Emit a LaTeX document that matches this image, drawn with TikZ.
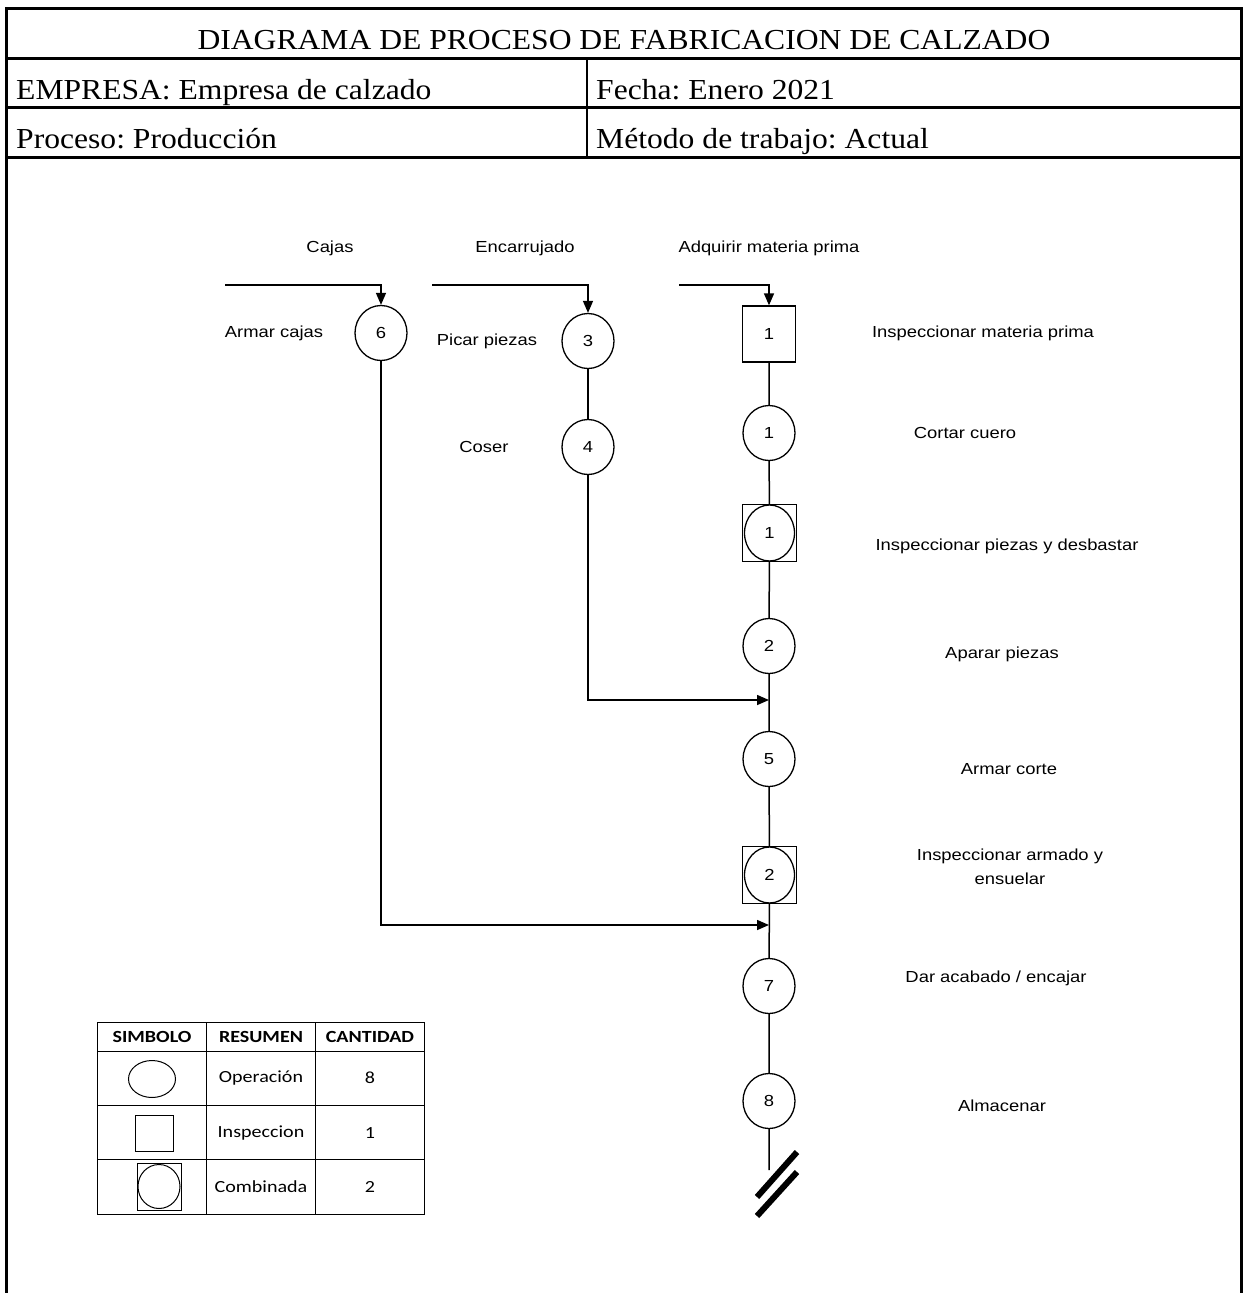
\documentclass[tikz,border=0pt]{standalone}
\usepackage{fontspec}
\setmainfont[FakeStretch=1.09]{Liberation Serif}
\newfontfamily\vsans[FakeStretch=1.15]{Liberation Sans}
\newfontfamily\calib[FakeStretch=1.18]{Carlito}
\frenchspacing
\usetikzlibrary{arrows.meta,shapes.geometric}
\tikzset{
  lbl/.style={font=\vsans\fontsize{16}{24}\selectfont,inner sep=0pt,align=center},
  head/.style={font=\fontsize{29}{34}\selectfont,inner sep=0pt},
  tbl/.style={line width=1pt},
  tbltxt/.style={font=\calib\fontsize{17}{20}\selectfont,inner sep=0pt},
  tblhead/.style={font=\calib\bfseries\fontsize{17}{20}\selectfont,inner sep=0pt},
  oper/.style={draw,ellipse,line width=1.3pt,minimum width=52pt,minimum height=55pt,inner sep=0pt,font=\vsans\fontsize{16}{19}\selectfont},
  insp/.style={draw,rectangle,line width=1.3pt,minimum width=53pt,minimum height=56pt,inner sep=0pt,font=\vsans\fontsize{16}{19}\selectfont},
  comb/.style={insp,minimum width=54pt,minimum height=57pt,
    path picture={\draw[line width=1.3pt] (path picture bounding box.center) ellipse (25pt and 28pt);}},
  flow/.style={line width=1.5pt},
  arr/.style={flow,-{Triangle[length=12pt,width=10pt]}}
}
\begin{document}
\begin{tikzpicture}[x=1pt,y=-1pt]
  \useasboundingbox (0,0) rectangle (1245,1293);

  % encabezado
  \draw[line width=3pt] (6.5,1293) -- (6.5,8) -- (1241.5,8) -- (1241.5,1293);
  \foreach \y in {58,107.5,157} {
      \draw[line width=3pt] (6.5,\y) -- (1241.5,\y);
    }
  \draw[line width=1.5pt] (587,58) -- (587,157);
  \node[head] (titulo) at (624,40) {DIAGRAMA DE PROCESO DE FABRICACION DE CALZADO};
  \node[head,anchor=base west] (empresa) at (16,99) {EMPRESA: Empresa de calzado};
  \node[head,anchor=base west] (fecha) at (596,99) {Fecha: Enero 2021};
  \node[head,anchor=base west] (proceso) at (16,148) {Proceso: Producción};
  \node[head,anchor=base west] (metodo) at (596,148) {Método de trabajo: Actual};

  % entradas
  \node[lbl] (lcajas) at (330,248) {Cajas};
  \node[lbl] (lencarr) at (525,248) {Encarrujado};
  \node[lbl] (ladq) at (769,248) {Adquirir materia prima};
  \coordinate (in6) at (225,285);
  \coordinate (in3) at (432,285);
  \coordinate (in1) at (679,285);

  % ramas laterales
  \node[oper] (op6) at (381,333) {6};
  \node[oper] (op3) at (588,341) {3};
  \node[oper] (op4) at (588,447) {4};
  \node[lbl] (larmarc) at (274,333) {Armar cajas};
  \node[lbl] (lpicar) at (487,341) {Picar piezas};
  \node[lbl] (lcoser) at (484,447) {Coser};

  % linea principal
  \node[insp] (sq1) at (769,334) {1};
  \node[oper] (op1) at (769,433) {1};
  \node[comb] (cb1) at (769.5,533) {1};
  \node[oper] (op2) at (769,646) {2};
  \node[oper] (op5) at (769,759) {5};
  \node[comb] (cb2) at (769.5,875) {2};
  \node[oper] (op7) at (769,986) {7};
  \node[oper] (op8) at (769,1101) {8};
  \coordinate (j4) at (769,700);
  \coordinate (j6) at (769,925);
  \coordinate (fin) at (769,1170);

  \foreach \n/\x/\y/\t in {sq1/983/333/Inspeccionar materia prima,op1/965/433/Cortar cuero,
      cb1/1007/546/Inspeccionar piezas y desbastar,op2/1002/654/Aparar piezas,
      op5/1009/769/Armar corte,op7/996/978/{Dar acabado / encajar},op8/1002/1106/Almacenar} {
      \node[lbl] (l\n) at (\x,\y) {\t};
    }
  \node[lbl] (lcb2) at (1010,867) {Inspeccionar armado y\\ensuelar};

  % conectores
  \draw[arr] (in6) -| (op6);
  \draw[arr] (in3) -| (op3);
  \draw[arr] (in1) -| (sq1);
  \draw[flow] (op3) -- (op4);
  \draw[arr] (op4) |- (j4);
  \draw[arr] (op6) |- (j6);
  \draw[flow] (sq1) -- (op1) -- (cb1) -- (op2) -- (op5) -- (cb2) -- (op7) -- (op8) -- (fin);
  \draw[line width=6pt] (757,1197) -- (797,1152);
  \draw[line width=6pt] (757,1216) -- (797,1172);

  % resumen
  \draw[tbl] (97,1022) rectangle (424,1214);
  \foreach \y in {1051,1105,1159} {
      \draw[tbl] (97,\y) -- (424,\y);
    }
  \foreach \x in {206,315} {
      \draw[tbl] (\x,1022) -- (\x,1214);
    }
  \node[tblhead] (hsim) at (152,1037) {SIMBOLO};
  \node[tblhead] (hres) at (261,1037) {RESUMEN};
  \node[tblhead] (hcan) at (370,1037) {CANTIDAD};
  \node[draw,ellipse,line width=1pt,minimum width=47pt,minimum height=37pt,inner sep=0pt] (sop) at (152,1079) {};
  \node[draw,rectangle,line width=1pt,minimum width=38pt,minimum height=36pt,inner sep=0pt] (sins) at (154,1133) {};
  \node[draw,rectangle,line width=1pt,minimum width=44pt,minimum height=47pt,inner sep=0pt,
    path picture={\draw[line width=1pt] (path picture bounding box.center) ellipse (21pt and 22pt);}] (scom) at (159,1186.5) {};
  \node[tbltxt] (rop) at (261,1078) {Operación};
  \node[tbltxt] (rins) at (261,1133) {Inspeccion};
  \node[tbltxt] (rcom) at (261,1187) {Combinada};
  \node[tbltxt] (cop) at (370,1078) {8};
  \node[tbltxt] (cins) at (370,1133) {1};
  \node[tbltxt] (ccom) at (370,1187) {2};
\end{tikzpicture}
\end{document}
